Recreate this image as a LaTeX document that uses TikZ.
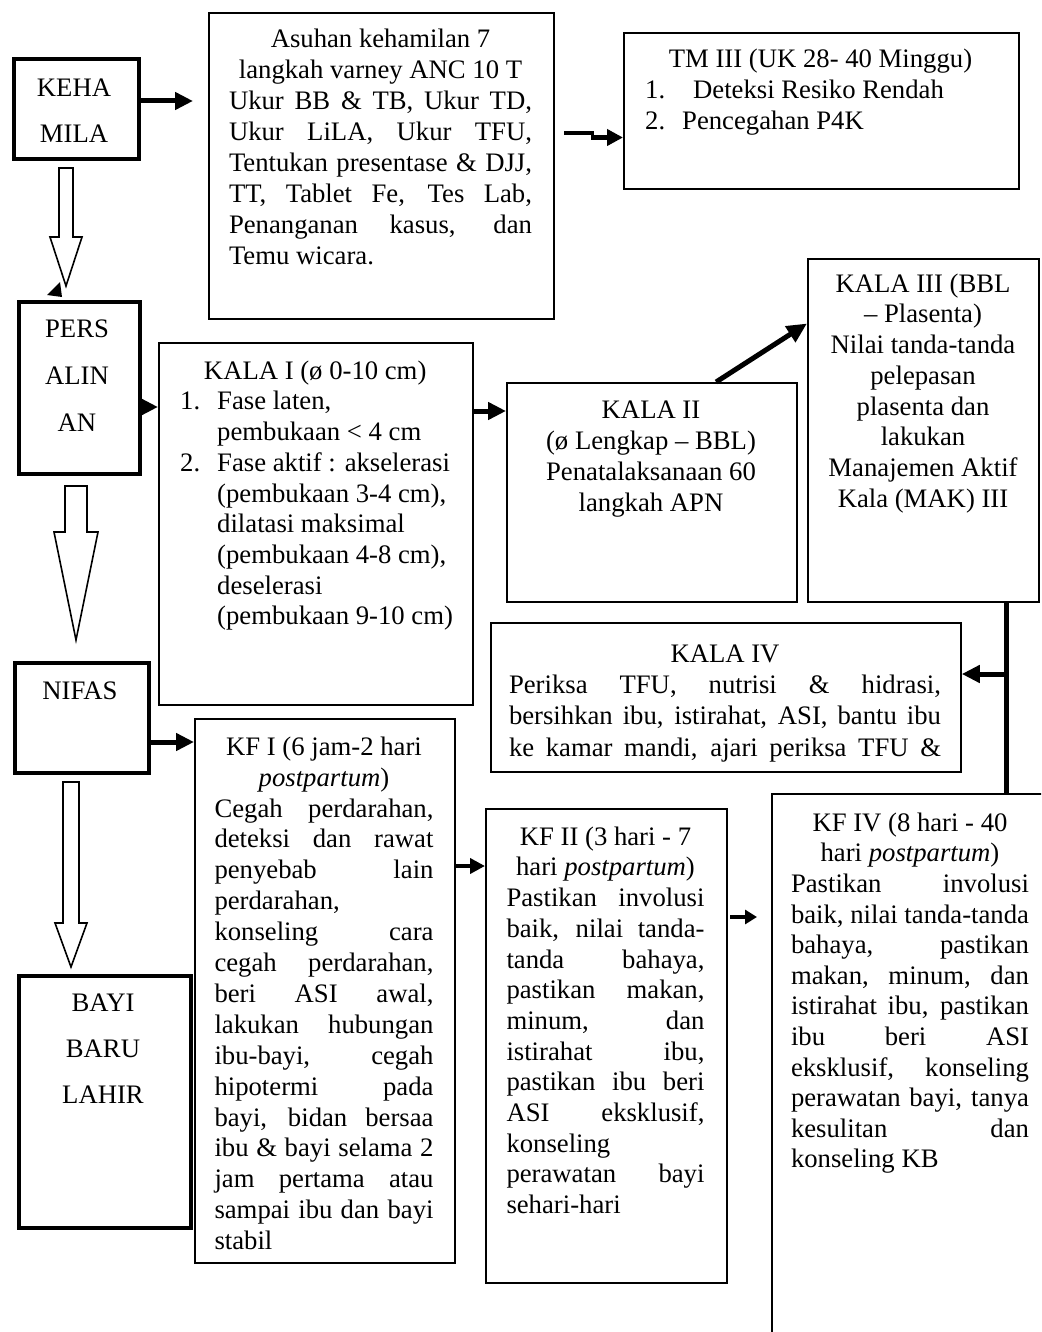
\documentclass[tikz,border=0pt]{standalone}
\usepackage{fontspec}
\setmainfont{Liberation Serif}
\usetikzlibrary{arrows.meta,calc}
\newcommand\tstrut{\rule{0pt}{22pt}}
\newcommand\jline[2]{\makebox[#1][s]{#2}}
\newcommand\lline[2]{\makebox[#1][l]{#2}}
\newcommand\fs[1]{\fontsize{26.7}{#1}\selectfont}
\tikzset{
  boxthin/.style={draw, line width=1.8pt, inner sep=0pt, anchor=north west},
  boxthick/.style={draw, line width=3.8pt, inner sep=0pt, anchor=north west},
  txt/.style={inner sep=0pt, anchor=north},
  arr/.style={line width=5pt, -{Triangle[length=18pt,width=17pt]}},
  arrsmall/.style={line width=4pt, -{Triangle[length=14pt,width=14pt]}},
  blockarrow/.style={draw, line width=1.6pt, fill=white, line join=miter},
}
\begin{document}
\begin{tikzpicture}[x=1pt,y=-1pt]
\useasboundingbox (0,0) rectangle (1041,1332);
\clip (0,0) rectangle (1041,1332);
\fill[white] (0,0) rectangle (1041,1332);

% ---------- boxes ----------
\node[boxthick, minimum width=125pt, minimum height=100pt] (keha) at (12,57) {};
\node[boxthin, minimum width=345pt, minimum height=306pt] (asuhan) at (208,12) {};
\node[boxthin, minimum width=395pt, minimum height=156pt] (tm3) at (623,32) {};
\node[boxthick, minimum width=121pt, minimum height=172pt] (pers) at (17,300) {};
\node[boxthin, minimum width=314pt, minimum height=362pt] (kala1) at (158,342) {};
\node[boxthin, minimum width=290pt, minimum height=219pt] (kala2) at (506,382) {};
\node[boxthin, minimum width=231pt, minimum height=343pt] (kala3) at (807,258) {};
\node[boxthin, minimum width=470pt, minimum height=149pt] (kala4) at (490,622) {};
\node[boxthick, minimum width=134pt, minimum height=110pt] (nifas) at (13,661) {};
\node[boxthin, minimum width=260pt, minimum height=544pt] (kf1) at (194,718) {};
\node[boxthin, minimum width=241pt, minimum height=474pt] (kf2) at (485,808) {};
\node[boxthin, minimum width=300pt, minimum height=560pt] (kf4) at (771,793) {};
\node[boxthick, minimum width=172pt, minimum height=252pt] (bayi) at (17,974) {};

% ---------- texts ----------
\node[txt, font={\fs{46}}, align=center] (kehaT) at (74,74) {\tstrut KEHA\\MILA};
\node[txt, font={\fs{47}}, align=center] (persT) at (77,315) {\tstrut PERS\\ALIN\\AN};
\node[txt, font={\fs{31}}, align=center] (nifasT) at (80,677) {\tstrut NIFAS};
\node[txt, font={\fs{46}}, align=center] (bayiT) at (103,989) {\tstrut BAYI\\BARU\\LAHIR};

\node[txt, font={\fs{31}}, align=center] (asuhanT) at (380.5,25) {\tstrut Asuhan kehamilan 7\\
langkah varney ANC 10 T\\
\jline{303pt}{Ukur BB \& TB, Ukur TD,}\\
\jline{303pt}{Ukur LiLA, Ukur TFU,}\\
\jline{303pt}{Tentukan presentase \& DJJ,}\\
\jline{303pt}{TT, Tablet Fe, Tes Lab,}\\
\jline{303pt}{Penanganan kasus, dan}\\
\lline{303pt}{Temu wicara.}};

\node[txt, font={\fs{31}}, align=center] (tm3T) at (820.5,45) {\tstrut TM III (UK 28- 40 Minggu)};
\node[txt, font={\fs{31}}, align=left, anchor=north west] (tm3L) at (645,76) {\tstrut\makebox[48pt][l]{1.}Deteksi Resiko Rendah\\
\makebox[37pt][l]{2.}Pencegahan P4K};

\node[txt, font={\fs{30.7}}, align=left, anchor=north west] (kala1T) at (180,357) {\tstrut\makebox[270pt]{KALA I (ø 0-10 cm)}\\
\makebox[37pt][l]{1.}Fase laten,\\
\hspace*{37pt}pembukaan < 4 cm\\
\makebox[37pt][l]{2.}Fase aktif : akselerasi\\
\hspace*{37pt}(pembukaan 3-4 cm),\\
\hspace*{37pt}dilatasi maksimal\\
\hspace*{37pt}(pembukaan 4-8 cm),\\
\hspace*{37pt}deselerasi\\
\hspace*{37pt}(pembukaan 9-10 cm)};

\node[txt, font={\fs{31}}, align=center] (kala2T) at (651,396) {\tstrut KALA II\\(ø Lengkap – BBL)\\Penatalaksanaan 60\\langkah APN};

\node[txt, font={\fs{30.7}}, align=center] (kala3T) at (923,270) {\tstrut KALA III (BBL\\– Plasenta)\\Nilai tanda-tanda\\pelepasan\\plasenta dan\\lakukan\\Manajemen Aktif\\Kala (MAK) III};

\node[txt, font={\fs{31.3}}, align=center] (kala4T) at (725,640) {\tstrut KALA IV\\
\jline{432pt}{Periksa TFU, nutrisi \& hidrasi,}\\
\jline{432pt}{bersihkan ibu, istirahat, ASI, bantu ibu}\\
\jline{432pt}{ke kamar mandi, ajari periksa TFU \&}};

\node[txt, font={\fs{30.9}}, align=center] (kf1T) at (324,733) {\tstrut KF I (6 jam-2 hari\\
\textit{postpartum})\\
\jline{219pt}{Cegah perdarahan,}\\
\jline{219pt}{deteksi dan rawat}\\
\jline{219pt}{penyebab lain}\\
\lline{219pt}{perdarahan,}\\
\jline{219pt}{konseling cara}\\
\jline{219pt}{cegah perdarahan,}\\
\jline{219pt}{beri ASI awal,}\\
\jline{219pt}{lakukan hubungan}\\
\jline{219pt}{ibu-bayi, cegah}\\
\jline{219pt}{hipotermi pada}\\
\jline{219pt}{bayi, bidan bersaa}\\
\jline{219pt}{ibu \& bayi selama 2}\\
\jline{219pt}{jam pertama atau}\\
\jline{219pt}{sampai ibu dan bayi}\\
\lline{219pt}{stabil}};

\node[txt, font={\fs{30.7}}, align=center] (kf2T) at (605.5,823) {\tstrut KF II (3 hari - 7\\
hari \textit{postpartum})\\
\jline{198pt}{Pastikan involusi}\\
\jline{198pt}{baik, nilai tanda-}\\
\jline{198pt}{tanda bahaya,}\\
\jline{198pt}{pastikan makan,}\\
\jline{198pt}{minum, dan}\\
\jline{198pt}{istirahat ibu,}\\
\jline{198pt}{pastikan ibu beri}\\
\jline{198pt}{ASI eksklusif,}\\
\lline{198pt}{konseling}\\
\jline{198pt}{perawatan bayi}\\
\lline{198pt}{sehari-hari}};

\node[txt, font={\fs{30.6}}, align=center] (kf4T) at (910,809) {\tstrut KF IV (8 hari - 40\\
hari \textit{postpartum})\\
\jline{238pt}{Pastikan involusi}\\
\jline{238pt}{baik, nilai tanda-tanda}\\
\jline{238pt}{bahaya, pastikan}\\
\jline{238pt}{makan, minum, dan}\\
\jline{238pt}{istirahat ibu, pastikan}\\
\jline{238pt}{ibu beri ASI}\\
\jline{238pt}{eksklusif, konseling}\\
\jline{238pt}{perawatan bayi, tanya}\\
\jline{238pt}{kesulitan dan}\\
\lline{238pt}{konseling KB}};

% ---------- block arrows ----------
\draw[blockarrow] (59,168) -- (73,168) -- (73,237) -- (82,237) -- (66,286) -- (50,237) -- (59,237) -- cycle;
\fill (47,295) -- (60,282) -- (62,297) -- cycle;
\draw[blockarrow] (65,486) -- (87,486) -- (87,532) -- (98,532) -- (76,640) -- (54,532) -- (65,532) -- cycle;
\draw[blockarrow] (63,782) -- (79,782) -- (79,923) -- (87,923) -- (71,967) -- (55,923) -- (63,923) -- cycle;

% ---------- connectors ----------
\coordinate (kA) at (193,101);
\draw[arr] (keha.east |- kA) -- (kA);

\coordinate (s1) at (564,133);
\coordinate (s2) at (594,133);
\coordinate (s3) at (591,137.5);
\draw[line width=3.6pt] (s1) -- (s2);
\draw[line width=5pt, -{Triangle[length=16pt,width=16pt]}] (s3) -- (tm3.west |- s3);

\coordinate (lvPK) at (150,407);
\draw[arr] (pers.east |- lvPK) -- (kala1.west |- lvPK);

\coordinate (lvK12) at (490,411);
\draw[arr] (kala1.east |- lvK12) -- (kala2.west |- lvK12);

\draw[line width=5pt, -{Triangle[length=20pt,width=18pt]}]
  ($(kala2.north west)!0.72!(kala2.north east)$) -- ($(kala3.north west)!0.19!(kala3.south west)$);

\coordinate (vTop) at ($(kala3.south west)!0.857!(kala3.south east)$);
\draw[line width=5pt] (vTop) -- (kf4.north -| vTop);
\coordinate (lvK4) at (980,674);
\draw[arr] (vTop |- lvK4) -- (kala4.east |- lvK4);

\coordinate (lvNK) at (170,742);
\draw[arr] (nifas.east |- lvNK) -- (kf1.west |- lvNK);

\coordinate (lvK12b) at (470,866);
\draw[line width=4.5pt, -{Triangle[length=15pt,width=15pt]}] (kf1.east |- lvK12b) -- (kf2.west |- lvK12b);

\coordinate (k24a) at (730,917);
\coordinate (k24b) at (757,917);
\draw[line width=4pt, -{Triangle[length=12pt,width=14pt]}] (k24a) -- (k24b);
\end{tikzpicture}
\end{document}
